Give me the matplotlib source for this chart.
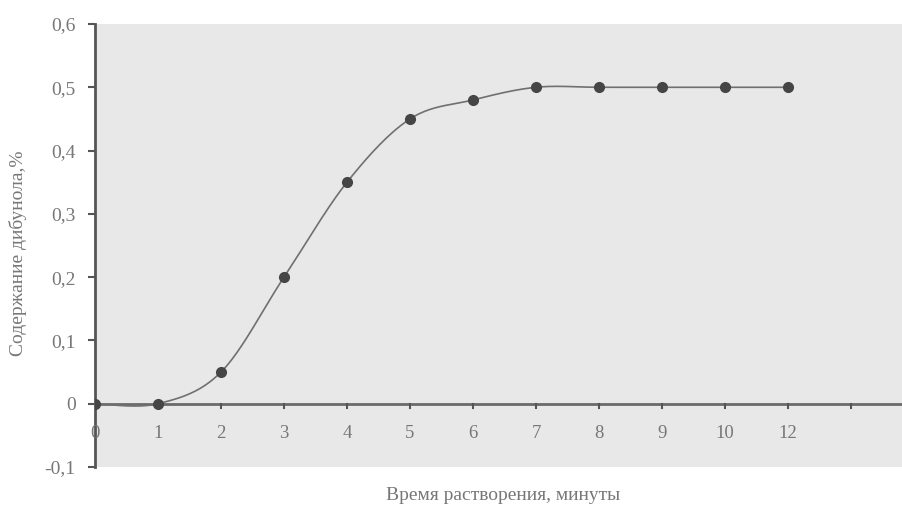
import numpy as np
import matplotlib
matplotlib.use("Agg")
import matplotlib.pyplot as plt

categories = ["0", "1", "2", "3", "4", "5", "6", "7", "8", "9", "10", "12"]
values = [0.0, 0.0, 0.05, 0.20, 0.35, 0.45, 0.48, 0.50, 0.50, 0.50, 0.50, 0.50]
y_ticks = [-0.1, 0.0, 0.1, 0.2, 0.3, 0.4, 0.5, 0.6]
y_tick_labels = ["-0,1", "0", "0,1", "0,2", "0,3", "0,4", "0,5", "0,6"]
x_label = "Время растворения, минуты"
y_label = "Содержание дибунола,%"

plt.rcParams['font.family'] = ['Liberation Serif', 'DejaVu Serif']

x = np.arange(len(values), dtype=float)
y = np.array(values)

# Excel-style smoothed line (Catmull-Rom Bezier)
def smooth(xp, yp, n=40):
    px = np.concatenate([[xp[0]], xp, [xp[-1]]])
    py = np.concatenate([[yp[0]], yp, [yp[-1]]])
    xs, ys = [], []
    t = np.linspace(0, 1, n)
    for i in range(1, len(px) - 2):
        p0 = np.array([px[i], py[i]])
        p3 = np.array([px[i + 1], py[i + 1]])
        c1 = p0 + (np.array([px[i + 1], py[i + 1]]) - np.array([px[i - 1], py[i - 1]])) / 6
        c2 = p3 - (np.array([px[i + 2], py[i + 2]]) - np.array([px[i], py[i]])) / 6
        b = ((1 - t) ** 3)[:, None] * p0 + (3 * (1 - t) ** 2 * t)[:, None] * c1 \
            + (3 * (1 - t) * t ** 2)[:, None] * c2 + (t ** 3)[:, None] * p3
        xs.append(b[:, 0]); ys.append(b[:, 1])
    return np.concatenate(xs), np.concatenate(ys)

sx, sy = smooth(x, y)

fig = plt.figure(figsize=(9.03, 5.12), dpi=100)
ax = fig.add_axes([95 / 903, (512 - 467) / 512, 1 - 95 / 903, (467 - 24) / 512])
ax.set_facecolor("#e8e8e8")

ax.set_xlim(0, (903 - 95) / 63.0)
ax.set_ylim(-0.1, 0.6)

for s in ["top", "right", "bottom"]:
    ax.spines[s].set_visible(False)
ax.spines["left"].set_color("#555555")
ax.spines["left"].set_linewidth(2)
ax.spines["left"].set_zorder(1)

ax.axhline(0, color="#6a6a6a", lw=2, zorder=1)

ax.plot(sx, sy, color="#707070", lw=1.2, zorder=2)
ax.plot(x, y, "o", color="#454545", ms=7, zorder=3, mec="#454545")

ax.set_yticks(y_ticks)
ax.set_yticklabels(y_tick_labels)
ax.tick_params(axis="y", direction="out", length=5, width=1.5, color="#555555",
               labelsize=14, labelcolor="#777777", pad=9)

ax.set_xticks([])
xt = np.arange(len(categories) + 1)
for xi in xt[1:]:
    ax.plot([xi, xi], [0, -0.006], color="#555555", lw=1.5, zorder=1, clip_on=False)
for xi, lab in zip(x, categories):
    ax.text(xi, -0.047, lab, ha="center", va="center", fontsize=13.5, color="#777777")

fig.text(503 / 903, 1 - 496 / 512, x_label, ha="center", va="center", fontsize=14, color="#777777")
fig.text(18 / 903, 1 - 253 / 512, y_label, ha="center", va="center", fontsize=14,
         color="#777777", rotation=90)

fig.savefig("out.png", dpi=100)
